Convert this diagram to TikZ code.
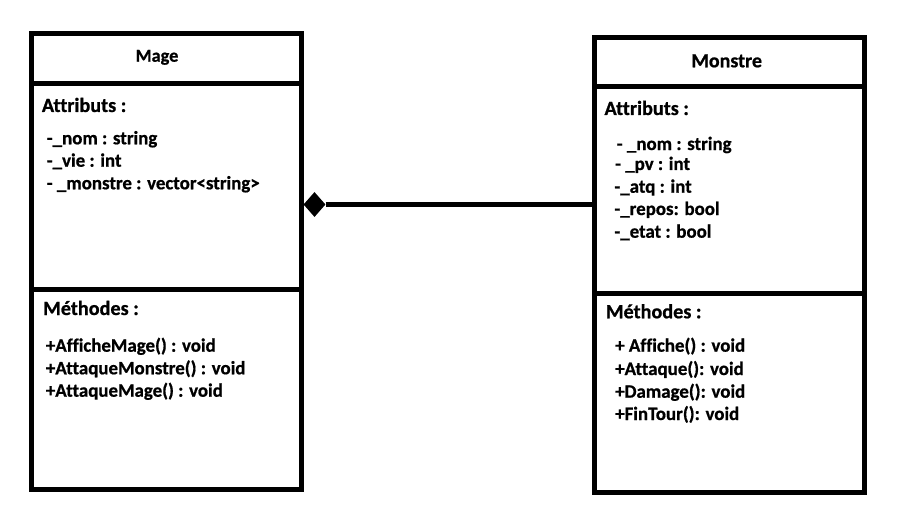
\documentclass[tikz,border=0pt]{standalone}
\usepackage{fontspec}
\setmainfont{Carlito}[Ligatures={NoCommon}, BoldFeatures={FakeBold=0.8}]
\usetikzlibrary{shapes.geometric}
\begin{document}
\begin{tikzpicture}[x=1pt,y=-1pt,
  umlbox/.style={draw, line width=4.6pt, rectangle, inner sep=0pt},
  sep/.style={line width=4.6pt},
  title/.style={anchor=base, inner sep=0pt, font=\bfseries\fontsize{20}{24}\selectfont},
  section/.style={anchor=base west, inner sep=0pt, font=\bfseries\fontsize{20.2}{24}\selectfont},
  item/.style={anchor=base west, inner sep=0pt, font=\bfseries\fontsize{18.9}{22}\selectfont},
  link/.style={line width=4.6pt}]
\useasboundingbox (0,0) rectangle (897,516);
% Mage class
\node[umlbox, minimum width=270pt, minimum height=456pt] (mage) at (166.5,261.5) {};
\draw[sep] (mage.west |- 0,83.5) -- (mage.east |- 0,83.5);
\draw[sep] (mage.west |- 0,289.5) -- (mage.east |- 0,289.5);
\node[title, font=\bfseries\fontsize{18.3}{22}\selectfont] (magetitle) at (157,61.7) {Mage};
\node[section] (mageattr) at (41.7,112) {Attributs :};
\node[item] (ma1) at (46.7,144.3) {-\_nom : string};
\node[item] (ma2) at (46.7,166.7) {-\_vie : int};
\node[item] (ma3) at (46.7,189.3) {- \_monstre : vector<string>};
\node[section] (magemeth) at (43,315) {Méthodes :};
\node[item] (mm1) at (45.7,351.7) {+AfficheMage() : void};
\node[item] (mm2) at (45.7,374.3) {+AttaqueMonstre() : void};
\node[item] (mm3) at (45.7,396.7) {+AttaqueMage() : void};
% Monstre class
\node[umlbox, minimum width=270pt, minimum height=455pt] (monstre) at (729.5,265) {};
\draw[sep] (monstre.west |- 0,86.5) -- (monstre.east |- 0,86.5);
\draw[sep] (monstre.west |- 0,293.5) -- (monstre.east |- 0,293.5);
\node[title] (monstretitle) at (726.7,67.3) {Monstre};
\node[section] (monattr) at (604.3,115) {Attributs :};
\node[item] (oa1) at (616.7,150) {- \_nom : string};
\node[item] (oa2) at (615,170) {- \_pv : int};
\node[item] (oa3) at (614.3,192.7) {-\_atq : int};
\node[item] (oa4) at (614.3,215) {-\_repos: bool};
\node[item] (oa5) at (614.3,237.7) {-\_etat : bool};
\node[section] (monmeth) at (605.7,318.3) {Méthodes :};
\node[item] (om1) at (615,351.7) {+ Affiche() : void};
\node[item] (om2) at (615,375) {+Attaque(): void};
\node[item] (om3) at (615,397.7) {+Damage(): void};
\node[item] (om4) at (615,420) {+FinTour(): void};
% Composition
\node[diamond, fill=black, inner sep=0pt, minimum width=22pt, minimum height=25pt] (dia) at (314.5,204.5) {};
\draw[link] (dia.east) -- (monstre.west |- dia.east);
\end{tikzpicture}
\end{document}
